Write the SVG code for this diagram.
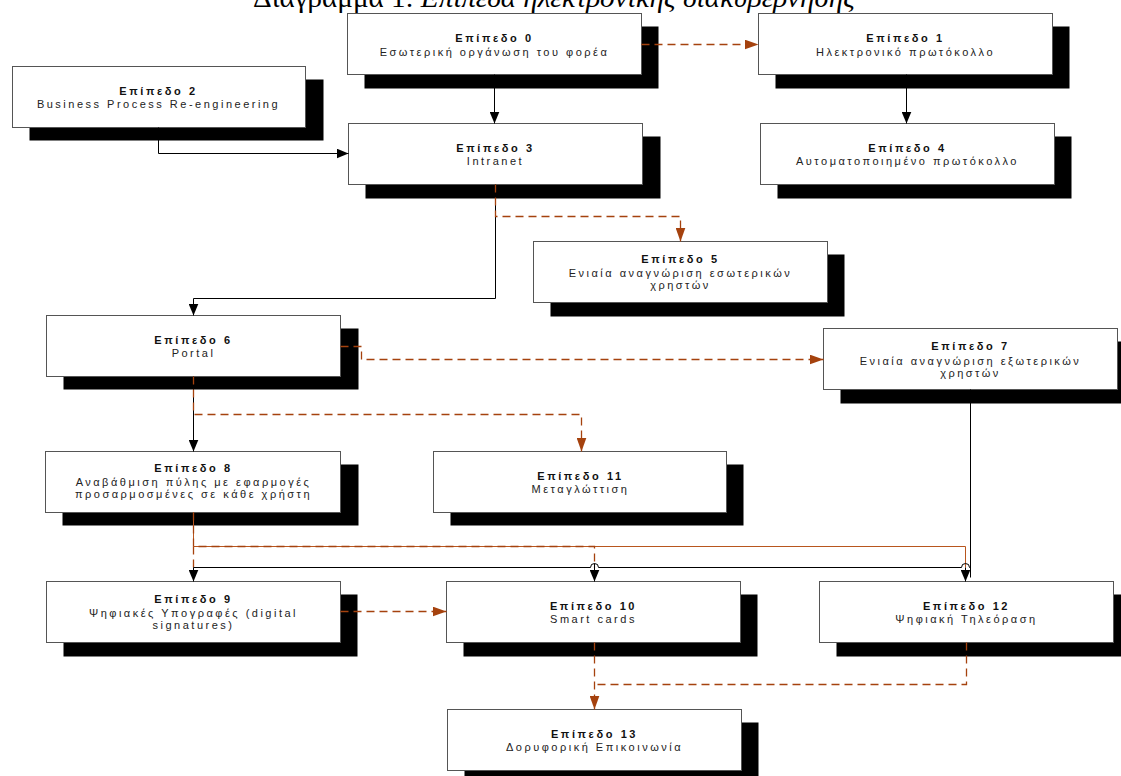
<svg xmlns="http://www.w3.org/2000/svg" width="1121" height="776" viewBox="0 0 1121 776">
<style>
.sh{fill:#000}
.bx{fill:#fff;stroke:#555;stroke-width:1}
.t{font-family:"Liberation Sans",Arial,sans-serif;font-size:11px;font-weight:bold;letter-spacing:2.6px;fill:#111;text-anchor:middle}
.s{font-family:"Liberation Sans",Arial,sans-serif;font-size:11px;letter-spacing:2.5px;fill:#222;text-anchor:middle}
.k{fill:none;stroke:#000;stroke-width:1}
.b{fill:none;stroke:#A5420E;stroke-width:1.3;stroke-dasharray:8 5}
.bs{fill:none;stroke:#B8561E;stroke-width:1}
.ttl{font-family:"Liberation Serif","Times New Roman",serif;font-size:28px;fill:#000}
</style>
<defs>
<marker id="ak" markerUnits="userSpaceOnUse" markerWidth="12" markerHeight="10" refX="12" refY="5" orient="auto"><path d="M0,0 L12,5 L0,10 z" fill="#000"/></marker>
<marker id="ab" markerUnits="userSpaceOnUse" markerWidth="14" markerHeight="10" refX="14" refY="5" orient="auto"><path d="M0,0 L14,5 L0,10 z" fill="#A5420E"/></marker>
</defs>
<text class="ttl" x="253" y="7" textLength="602" lengthAdjust="spacingAndGlyphs">Διάγραμμα 1: <tspan font-style="italic">Επίπεδα ηλεκτρονικής διακυβέρνησης</tspan></text>

<g transform="translate(0.5,0.5)">
<g id="n0"><rect class="sh" x="364" y="26" width="294" height="62"/><rect class="bx" x="347" y="13" width="294" height="61"/><text class="t" x="494" y="41">Επίπεδο 0</text><text class="s" x="494" y="55">Εσωτερική οργάνωση του φορέα</text></g>
<g id="n1"><rect class="sh" x="775" y="26" width="294" height="62"/><rect class="bx" x="758" y="13" width="294" height="61"/><text class="t" x="905" y="41">Επίπεδο 1</text><text class="s" x="905" y="55">Ηλεκτρονικό πρωτόκολλο</text></g>
<g id="n2"><rect class="sh" x="29" y="79" width="294" height="61"/><rect class="bx" x="12" y="66" width="293" height="61"/><text class="t" x="158" y="94">Επίπεδο 2</text><text class="s" x="158" y="107">Business Process Re-engineering</text></g>
<g id="n3"><rect class="sh" x="365" y="136" width="295" height="62"/><rect class="bx" x="348" y="123" width="294" height="61"/><text class="t" x="495" y="151">Επίπεδο 3</text><text class="s" x="495" y="164">Intranet</text></g>
<g id="n4"><rect class="sh" x="777" y="136" width="294" height="62"/><rect class="bx" x="760" y="123" width="294" height="61"/><text class="t" x="907" y="151">Επίπεδο 4</text><text class="s" x="907" y="164">Αυτοματοποιημένο πρωτόκολλο</text></g>
<g id="n5"><rect class="sh" x="550" y="254" width="294" height="62"/><rect class="bx" x="533" y="241" width="294" height="61"/><text class="t" x="680" y="262">Επίπεδο 5</text><text class="s" x="680" y="276">Ενιαία αναγνώριση εσωτερικών</text><text class="s" x="680" y="288">χρηστών</text></g>
<g id="n6"><rect class="sh" x="63" y="328" width="295" height="61"/><rect class="bx" x="46" y="315" width="294" height="61"/><text class="t" x="193" y="343">Επίπεδο 6</text><text class="s" x="193" y="356">Portal</text></g>
<g id="n7"><rect class="sh" x="840" y="341" width="294" height="62"/><rect class="bx" x="823" y="328" width="294" height="61"/><text class="t" x="970" y="349">Επίπεδο 7</text><text class="s" x="970" y="364">Ενιαία αναγνώριση εξωτερικών</text><text class="s" x="970" y="376">χρηστών</text></g>
<g id="n8"><rect class="sh" x="62" y="464" width="296" height="61"/><rect class="bx" x="45" y="451" width="295" height="61"/><text class="t" x="193" y="471">Επίπεδο 8</text><text class="s" x="193" y="485">Αναβάθμιση πύλης με εφαρμογές</text><text class="s" x="193" y="497">προσαρμοσμένες σε κάθε χρήστη</text></g>
<g id="n11"><rect class="sh" x="450" y="464" width="293" height="61"/><rect class="bx" x="433" y="451" width="293" height="61"/><text class="t" x="580" y="479">Επίπεδο 11</text><text class="s" x="580" y="492">Μεταγλώττιση</text></g>
<g id="n9"><rect class="sh" x="63" y="594" width="294" height="62"/><rect class="bx" x="46" y="581" width="294" height="61"/><text class="t" x="193" y="602">Επίπεδο 9</text><text class="s" x="193" y="616">Ψηφιακές Υπογραφές (digital</text><text class="s" x="193" y="628">signatures)</text></g>
<g id="n10"><rect class="sh" x="463" y="594" width="294" height="62"/><rect class="bx" x="446" y="581" width="294" height="61"/><text class="t" x="593" y="609">Επίπεδο 10</text><text class="s" x="593" y="622">Smart cards</text></g>
<g id="n12"><rect class="sh" x="836" y="594" width="294" height="62"/><rect class="bx" x="819" y="581" width="294" height="61"/><text class="t" x="966" y="609">Επίπεδο 12</text><text class="s" x="966" y="622">Ψηφιακή Τηλεόραση</text></g>
<g id="n13"><rect class="sh" x="464" y="722" width="294" height="62"/><rect class="bx" x="447" y="709" width="294" height="61"/><text class="t" x="594" y="737">Επίπεδο 13</text><text class="s" x="594" y="750">Δορυφορική Επικοινωνία</text></g>

<g id="connectors">
<path class="k" d="M494,74 V123" marker-end="url(#ak)"/>
<path class="b" d="M641,44 H758" marker-end="url(#ab)"/>
<path class="k" d="M906,74 V123" marker-end="url(#ak)"/>
<path class="k" d="M158,127 V153 H348" marker-end="url(#ak)"/>
<path class="k" d="M495,184 V298 H193 V315" marker-end="url(#ak)"/>
<path class="b" d="M495,184 V216 H680 V241" marker-end="url(#ab)"/>
<path class="b" d="M340,346 H361 V359 H823" marker-end="url(#ab)"/>
<path class="k" d="M193,376 V451" marker-end="url(#ak)"/>
<path class="b" d="M193,376 V414 H581 V451" marker-end="url(#ab)"/>
<path class="bs" d="M193,512 V546 H965 V567"/>
<path class="b" d="M193,512 V546 H594 V567"/>
<path class="b" d="M193,546 V567"/>
<path class="k" d="M970,389 V577"/>
<path class="k" d="M970,567 H969 A4,4 0 0 0 961,567 H598 A4,4 0 0 0 590,567 H193"/>
<path class="k" d="M193,567 V581" marker-end="url(#ak)"/>
<path class="k" d="M594,563 V581" marker-end="url(#ak)"/>
<path class="k" d="M965,567 V581" marker-end="url(#ak)"/>
<path class="b" d="M340,611 H446" marker-end="url(#ab)"/>
<path class="b" d="M594,642 V709" marker-end="url(#ab)"/>
<path class="b" d="M966,642 V684 H594"/>
</g>
</g>
</svg>
